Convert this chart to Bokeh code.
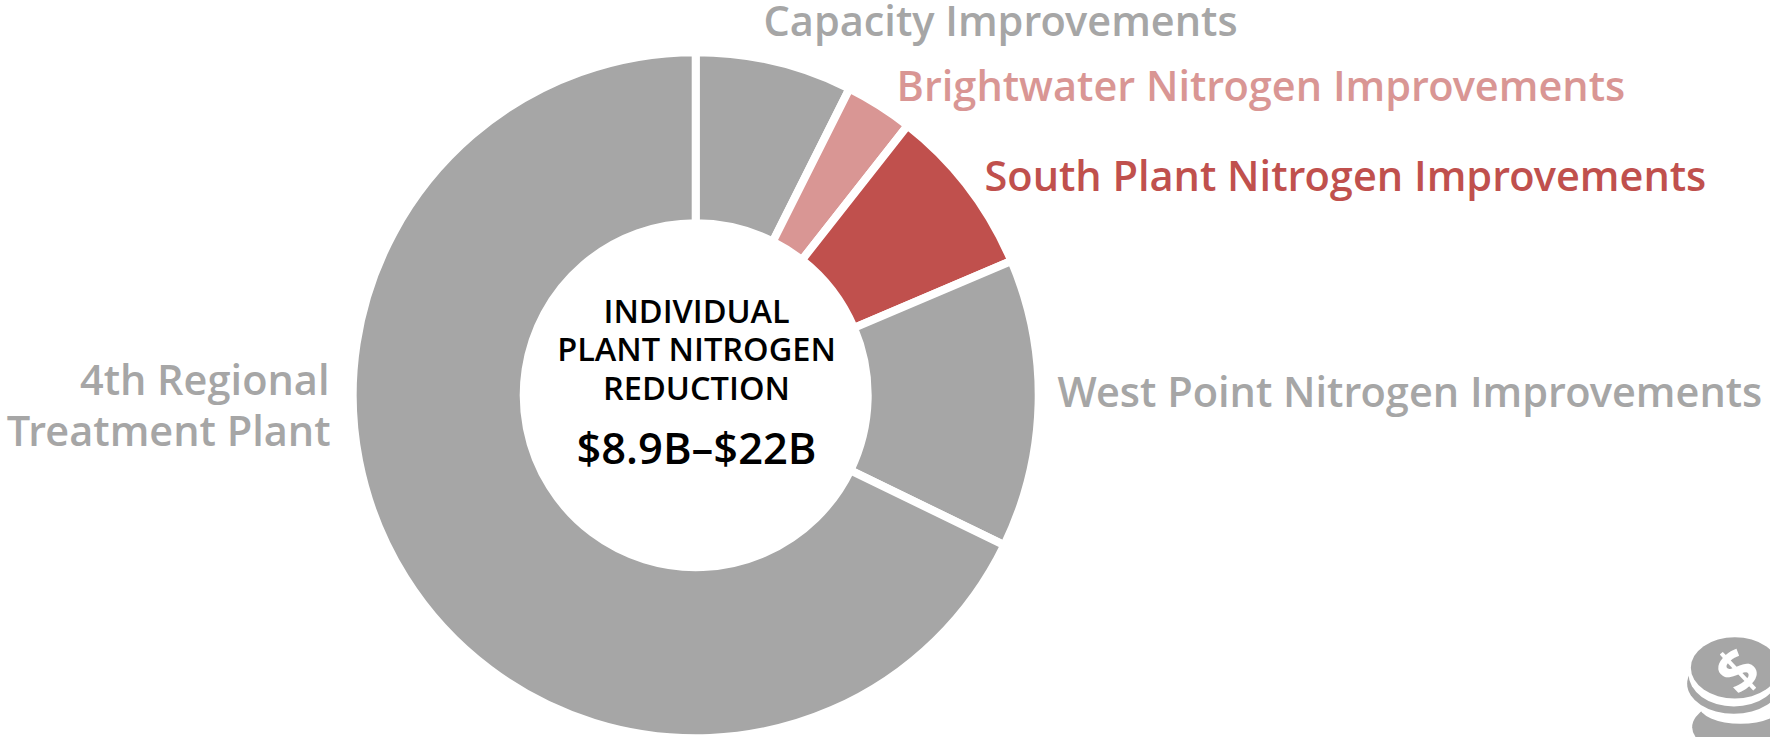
from math import pi
import numpy as np
from bokeh.plotting import figure
from bokeh.models import ColumnDataSource, Range1d
from bokeh.core.properties import value
from bokeh.embed import file_html
from bokeh.resources import INLINE

categories = ["Capacity Improvements", "Brightwater Nitrogen Improvements",
              "South Plant Nitrogen Improvements", "West Point Nitrogen Improvements",
              "4th Regional Treatment Plant"]
shares = [7.4, 3.2, 8.0, 13.6, 67.8]
colors = ["#a6a6a6", "#d99694", "#c0504d", "#a6a6a6", "#a6a6a6"]

W, H = 1770, 737
CX, CY = 695.2, H - 394.7
R_OUT, R_IN = 343, 172
GAP = 8
BASE = 0.375  # em shift between the requested and the drawn baseline


def Y(py, size=0):
    return H - py + BASE * size


cum = np.cumsum([0] + shares) / sum(shares) * 2 * pi
src = ColumnDataSource(dict(start=pi / 2 - cum[1:], end=pi / 2 - cum[:-1], color=colors, name=categories))

p = figure(width=W, height=H, x_range=Range1d(0, W), y_range=Range1d(0, H),
           output_backend="svg", toolbar_location=None, min_border=0,
           outline_line_color=None, background_fill_color="white")
p.axis.visible = False
p.grid.visible = False

p.annular_wedge(x=CX, y=CY, inner_radius=R_IN, outer_radius=R_OUT,
                start_angle="start", end_angle="end", fill_color="color",
                line_color="white", line_width=GAP, source=src)

FONT = "Open Sans SemiBold"
LS = 41.5
labels = [
    ("Capacity Improvements", 763, 35, "left", "#a6a6a6", LS),
    ("Brightwater Nitrogen Improvements", 896, 100, "left", "#d99694", LS),
    ("South Plant Nitrogen Improvements", 984, 190, "left", "#c0504d", LS),
    ("West Point Nitrogen Improvements", 1057, 406, "left", "#a6a6a6", LS),
    ("4th Regional", 329, 394, "right", "#a6a6a6", LS),
    ("Treatment Plant", 330, 445, "right", "#a6a6a6", LS),
]
for t, x, y, al, c, s in labels:
    p.text(x=[x], y=[Y(y, s)], text=[t], text_font=value(FONT),
           text_font_size=f"{s}px", text_color=c, text_align=al, text_baseline="alphabetic")

center = [
    ("INDIVIDUAL", 322, 32.5),
    ("PLANT NITROGEN", 360, 32.5),
    ("REDUCTION", 399, 32.5),
    ("$8.9B\u2013$22B", 463, 43.5),
]
for t, y, s in center:
    p.text(x=[696], y=[Y(y, s)], text=[t], text_font=value(FONT),
           text_font_size=f"{s}px", text_color="black", text_align="center", text_baseline="alphabetic")

# Coin-stack icon
coin_x = 1650
coin_y = 620
layers = [
    (265, 320, 140, 80, "#a6a6a6"),
    (270, 255, 125, 55, "white"),
    (248, 195, 146, 97, "white"),
    (250, 190, 140, 90, "#a6a6a6"),
    (250, 160, 136, 98, "white"),
    (253, 142, 132, 92, "#a6a6a6"),
]
for zx, zy, rx, ry, c in layers:
    p.ellipse(x=[coin_x + zx / 3], y=[Y(coin_y + zy / 3)], width=2 * rx / 3, height=2 * ry / 3,
              fill_color=c, line_color=None)
p.text(x=[coin_x + 258 / 3], y=[Y(coin_y + 148 / 3)], text=["$"], angle=0.75, text_font=value("Open Sans"),
       text_font_style="bold", text_font_size="60px", text_color="white",
       text_align="center", text_baseline="middle")

open("out.html", "w").write(file_html(p, INLINE))
